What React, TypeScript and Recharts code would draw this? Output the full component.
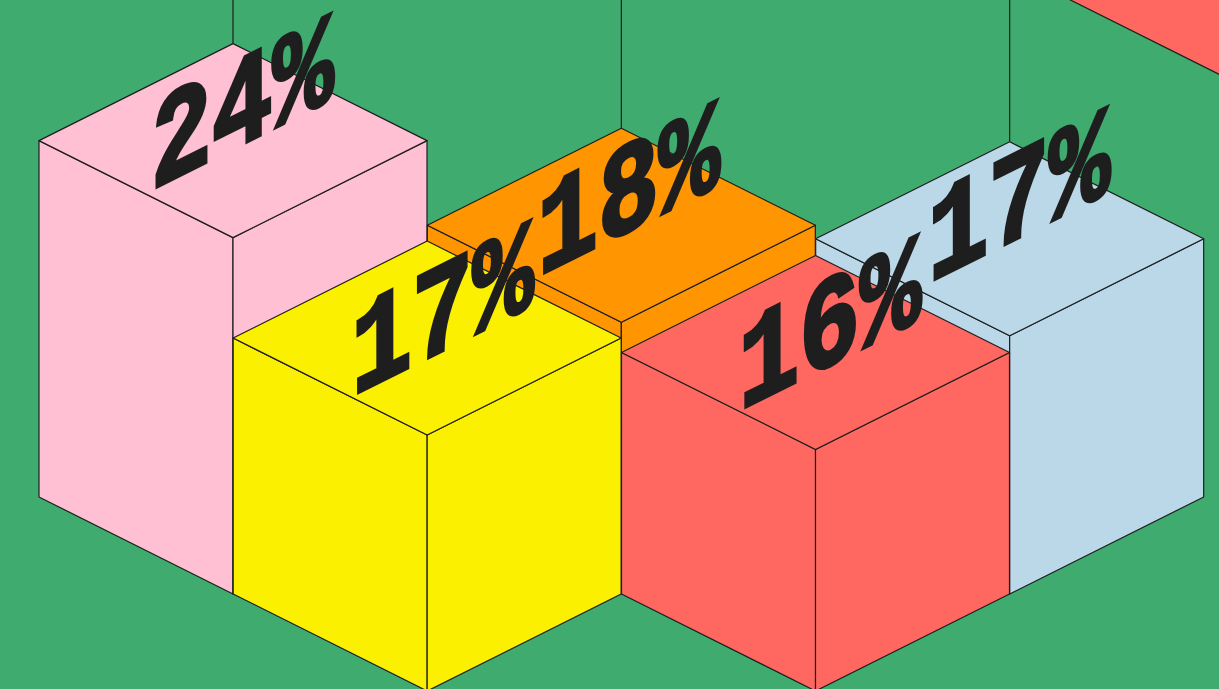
import React from "react";
import { BarChart, Bar, XAxis, YAxis, LabelList } from "recharts";

const categories = ["A", "B", "C", "D", "E", "F"];
const backRow = [23.6, null, 18, null, 17.1, null];
const frontRow = [null, 16.95, null, 16, null, null];
const farTile = [null, null, null, null, null, 28.5];
const percentLabels = ["24%", "17%", "18%", "16%", "17%", ""];

const GREEN = "#3fab6f";
const INK = "#1e1e1e";
const palette: Record<string, string> = {
  A: "#ffc0d3",
  B: "#faf000",
  C: "#ff9500",
  D: "#ff6860",
  E: "#bbd8e9",
  F: "#ff6860",
};
const labelNudge: Record<string, number[]> = {
  A: [-2, -3],
  B: [4, 6],
  C: [-4, -1],
  D: [3, 6],
  E: [-2, -8],
};

const rows = categories.map((cat, i) => ({
  cat,
  back: backRow[i],
  front: frontRow[i],
  far: farTile[i],
  label: percentLabels[i],
}));

const FRONT_ROW_DROP = 97;
const pts = (p: number[][]) => p.map((q) => q.join(",")).join(" ");

const cube = (drop: number, mast: boolean) => (props: any) => {
  const { x, y, width, height, payload } = props;
  if (!height || height <= 0) return <g />;
  const hw = width;
  const cx = x + width / 2;
  const qh = hw / 2;
  const top = y + drop;
  const base = y + height + drop;
  const fill = palette[payload.cat];
  const edge = { stroke: INK, strokeWidth: 1.2, strokeLinejoin: "round" as const };
  return (
    <g>
      {mast && <line x1={cx} y1={0} x2={cx} y2={top - 2 * qh} {...edge} />}
      <polygon points={pts([[cx - hw, top - qh], [cx, top], [cx, base], [cx - hw, base - qh]])} fill={fill} {...edge} />
      <polygon points={pts([[cx + hw, top - qh], [cx, top], [cx, base], [cx + hw, base - qh]])} fill={fill} {...edge} />
      <polygon points={pts([[cx, top], [cx - hw, top - qh], [cx, top - 2 * qh], [cx + hw, top - qh]])} fill={fill} {...edge} />
    </g>
  );
};

const tile = (props: any) => {
  const { x, y, width, height, payload } = props;
  if (!height || height <= 0) return <g />;
  const hw = width * 2;
  const fx = x + width * 1.5;
  return (
    <polygon
      points={pts([[fx, y], [fx - hw, y - hw / 2], [fx, y - hw], [fx + hw, y - hw / 2]])}
      fill={palette[payload.cat]}
      stroke={INK}
      strokeWidth={1.2}
    />
  );
};

const skewLabel = (drop: number) => (props: any) => {
  const { x, y, width, height, value, index } = props;
  if (!height || height <= 0 || !value) return <g />;
  const sx = 0.78;
  const [dx, dy] = labelNudge[categories[index]] || [0, 0];
  const tx = x + width / 2 - 80 + dx;
  const ty = y + drop - 45 + dy;
  return (
    <text
      transform={`matrix(${sx},${-sx / 2},0,1,${tx},${ty})`}
      fontFamily="'Liberation Mono', monospace"
      fontWeight={700}
      fontSize={130}
      fill={INK}
      stroke={INK}
      strokeWidth={4}
      strokeLinejoin="miter"
    >
      {value}
    </text>
  );
};

export default function App() {
  return (
    <div style={{ position: "absolute", left: 0, top: 0, width: 1219, height: 689, overflow: "hidden", background: GREEN }}>
      <BarChart
        width={1400}
        height={689}
        data={rows}
        barCategoryGap={0}
        margin={{ top: 0, right: 99, bottom: 95, left: 136 }}
      >
        <XAxis dataKey="cat" hide />
        <YAxis hide domain={[0, 39.34]} />
        <Bar dataKey="far" stackId="s" isAnimationActive={false} shape={tile} />
        <Bar dataKey="back" stackId="s" isAnimationActive={false} shape={cube(0, true)}>
          <LabelList dataKey="label" content={skewLabel(0)} />
        </Bar>
        <Bar dataKey="front" stackId="s" isAnimationActive={false} shape={cube(FRONT_ROW_DROP, false)}>
          <LabelList dataKey="label" content={skewLabel(FRONT_ROW_DROP)} />
        </Bar>
      </BarChart>
    </div>
  );
}
